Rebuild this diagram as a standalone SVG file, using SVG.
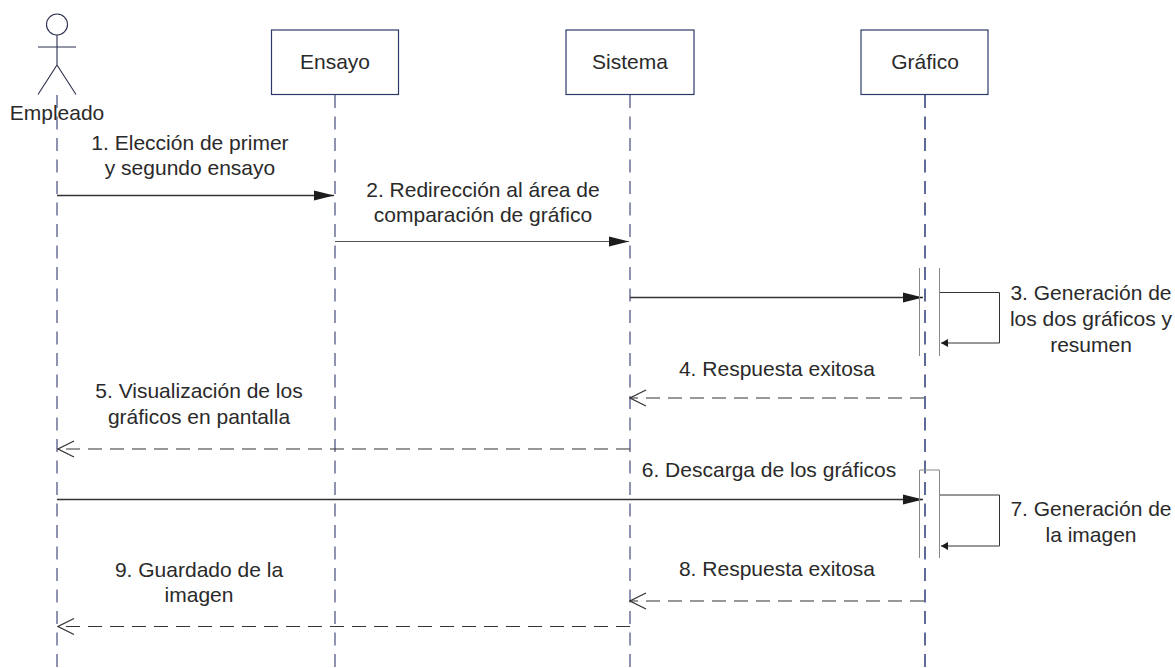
<svg xmlns="http://www.w3.org/2000/svg" width="1175" height="668" viewBox="0 0 1175 668">
<style>
text{font-family:"Liberation Sans",Arial,sans-serif;font-size:21px;fill:#2a2a2a;text-anchor:middle}
.box{fill:#fff;stroke:#2b3a6b;stroke-width:1.2}
.life{stroke:#6c7096;stroke-width:1.5;stroke-dasharray:13 8.5;fill:none}
.life2{stroke:#2b3a78;stroke-width:1.5;stroke-dasharray:13 8.5;fill:none}
.act{stroke:#888;stroke-width:1;fill:none}
.msg{stroke:#333;stroke-width:1.4;fill:none}
.dash{stroke:#333;stroke-width:1.2;stroke-dasharray:14 8;fill:none}
.actor{stroke:#2b3050;stroke-width:1.1;fill:none}
</style>
<defs>
<marker id="solid" markerUnits="userSpaceOnUse" markerWidth="20" markerHeight="12" refX="20" refY="6" orient="auto"><path d="M0 1 L20 6 L0 11 Z" fill="#1c1c1c"/></marker>
<marker id="small" markerUnits="userSpaceOnUse" markerWidth="8" markerHeight="10" refX="7" refY="5" orient="auto"><path d="M0 1 L7 5 L0 9 Z" fill="#1c1c1c"/></marker>
<marker id="open" markerUnits="userSpaceOnUse" markerWidth="18" markerHeight="20" refX="17" refY="10" orient="auto"><path d="M1 2 L17 10 L1 18" fill="none" stroke="#333" stroke-width="1.2"/></marker>
</defs>
<g id="connectors">
<path class="life" d="M57 95V668"/>
<path class="life" d="M335 95V668"/>
<path class="life" d="M630 95V668"/>
<path class="life2" d="M925 95V668"/>
<path class="msg" d="M57 195.500H334" marker-end="url(#solid)"/>
<path class="msg" style="stroke:#555;stroke-width:1" d="M335 241.500H629" marker-end="url(#solid)"/>
<path class="msg" d="M630 297.500H923" marker-end="url(#solid)"/>
<path class="msg" style="stroke-width:1" d="M939 292.500H999.500V343H941" marker-end="url(#small)"/>
<path class="dash" d="M924 398H630" marker-end="url(#open)"/>
<path class="dash" d="M630 449H58" marker-end="url(#open)"/>
<path class="msg" d="M57 499.500H923" marker-end="url(#solid)"/>
<path class="msg" style="stroke-width:1" d="M939 495H999.500V546H941" marker-end="url(#small)"/>
<path class="dash" d="M924 601H630" marker-end="url(#open)"/>
<path class="dash" d="M630 626.500H58" marker-end="url(#open)"/>
</g>
<g id="actor-empleado">
<circle class="actor" cx="57" cy="24.500" r="10.500"/>
<path class="actor" d="M57 35V65M38 47H76M38 94.500L57 65L76 94.500"/>
<text x="57" y="120">Empleado</text>
</g>
<g id="node-ensayo"><rect class="box" x="271.500" y="30" width="127" height="64.500"/><text x="335" y="69">Ensayo</text></g>
<g id="node-sistema"><rect class="box" x="566" y="30" width="128" height="64.500"/><text x="630" y="69">Sistema</text></g>
<g id="node-grafico"><rect class="box" x="861" y="30" width="127" height="64.500"/><text x="925" y="69">Gráfico</text></g>
<g id="activation-1"><path class="act" d="M919.500 268V356M939.500 268V356"/></g>
<g id="activation-2"><path class="act" d="M919.500 558V470H939.500V558"/></g>
<g id="labels">
<text x="190" y="150">1. Elección de primer</text>
<text x="190" y="175">y segundo ensayo</text>
<text x="483" y="197">2. Redirección al área de</text>
<text x="483" y="222">comparación de gráfico</text>
<text x="1091" y="300">3. Generación de</text>
<text x="1091" y="326">los dos gráficos y</text>
<text x="1091" y="352">resumen</text>
<text x="777" y="376">4. Respuesta exitosa</text>
<text x="199" y="398">5. Visualización de los</text>
<text x="199" y="424">gráficos en pantalla</text>
<text x="769" y="477">6. Descarga de los gráficos</text>
<text x="1091" y="516">7. Generación de</text>
<text x="1091" y="542">la imagen</text>
<text x="777" y="576">8. Respuesta exitosa</text>
<text x="199" y="577">9. Guardado de la</text>
<text x="199" y="602">imagen</text>
</g>
</svg>
